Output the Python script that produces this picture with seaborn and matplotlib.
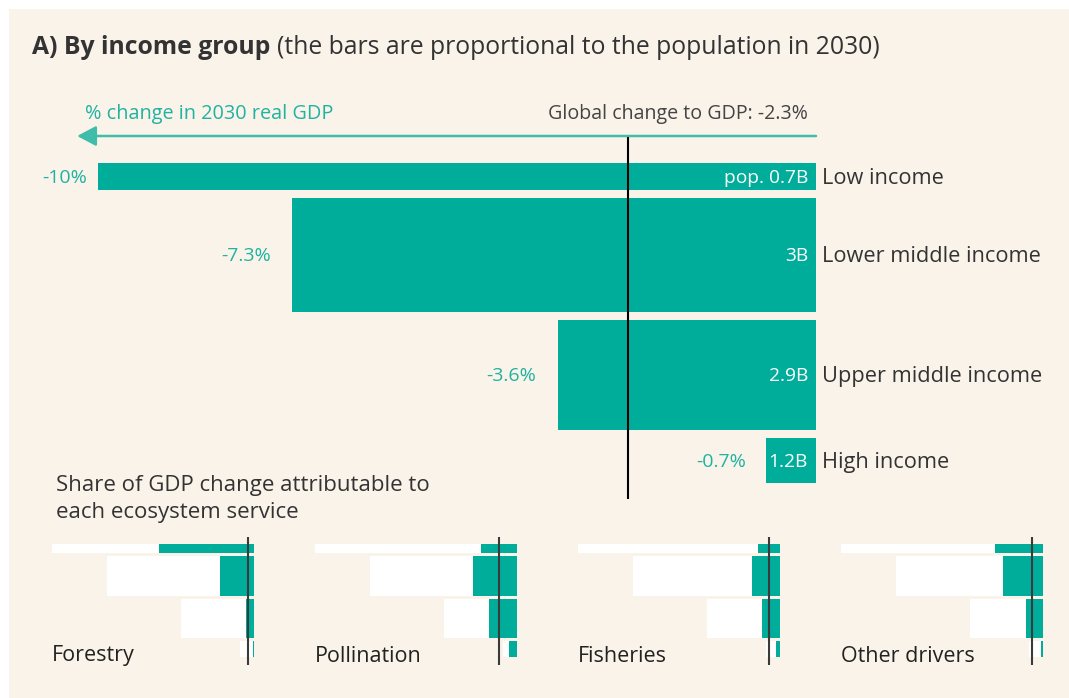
import matplotlib
matplotlib.use("Agg")
import matplotlib.pyplot as plt
from matplotlib.patches import Rectangle
import seaborn as sns
import pandas as pd

# ---------------- data ----------------
groups = ["Low income", "Lower middle income", "Upper middle income", "High income"]
gdp_change = [-10.0, -7.3, -3.6, -0.7]
population_b = [0.7, 3.0, 2.9, 1.2]
pop_labels = ["pop. 0.7B", "3B", "2.9B", "1.2B"]
pct_labels = ["-10%", "-7.3%", "-3.6%", "-0.7%"]
global_change_label = "Global change to GDP: -2.3%"
global_marker = -2.62  # position of the global reference line as drawn

services = ["Forestry", "Pollination", "Fisheries", "Other drivers"]
forestry = [-4.7, -1.7, -0.4, -0.06]
pollination = [-1.8, -2.2, -1.4, -0.4]
fisheries = [-1.1, -1.4, -0.9, -0.2]
other_drivers = [-2.4, -2.0, -0.85, -0.12]
service_values = [forestry, pollination, fisheries, other_drivers]
service_global = [-0.3, -0.9, -0.55, -0.55]

# ---------------- style ----------------
sns.set_theme(style="white")
plt.rcParams["font.family"] = ["Open Sans", "DejaVu Sans"]

TEAL = "#00ad9a"
TEAL_TXT = "#20b3a1"
ARROW = "#3fbcaa"
BEIGE = "#faf3ea"
DARK = "#333333"

W, H = 1069, 698
fig = plt.figure(figsize=(W / 100, H / 100), dpi=100, facecolor="white")
fig.patches.append(Rectangle((9 / W, 0), 1 - 9 / W, 1 - 9 / H, transform=fig.transFigure,
                             facecolor=BEIGE, edgecolor="none", zorder=-10))


def rect(x0, y0, x1, y1):
    return [x0 / W, 1 - y1 / H, (x1 - x0) / W, (y1 - y0) / H]


def px2pt(p):
    return p * 72 / 100


def stack_positions(pops, top, gap):
    tops = []
    t = top
    for p in pops:
        tops.append(t)
        t += p + gap
    return tops


def reshape_bars(ax, tops, pops):
    n = len(pops)
    for i, patch in enumerate(ax.patches):
        k = i % n
        patch.set_y(tops[k])
        patch.set_height(pops[k])
        patch.set_linewidth(0)


# ---------------- main panel ----------------
px_per_b = 38.0
ax = fig.add_axes(rect(98, 137, 816, 499))
df = pd.DataFrame({"group": groups, "change": gdp_change})
sns.barplot(data=df, x="change", y="group", orient="h", color=TEAL, saturation=1,
            errorbar=None, ax=ax)
main_tops = stack_positions(population_b, 26 / px_per_b, 8 / px_per_b)
reshape_bars(ax, main_tops, population_b)
ax.set_xlim(-10, 0)
ax.set_ylim(362 / px_per_b, 0)
ax.set_axis_off()
ax.axvline(global_marker, color="black", lw=1.5, zorder=5)

# arrow
ax.annotate("", xy=(-10.29, -1 / px_per_b), xytext=(0, -1 / px_per_b),
            arrowprops=dict(arrowstyle="-|>,head_length=11.5,head_width=6.1", mutation_scale=1,
                            color=ARROW, lw=1.8, shrinkA=0, shrinkB=0), annotation_clip=False)

label_gaps = [11, 21, 21, 20]
for i, g in enumerate(groups):
    yc = main_tops[i] + population_b[i] / 2
    ax.annotate(pct_labels[i], xy=(gdp_change[i], yc), xytext=(-px2pt(label_gaps[i]), -px2pt(1.5)),
                textcoords="offset points", ha="right", va="center", color=TEAL_TXT,
                fontsize=14, annotation_clip=False)
    ax.annotate(pop_labels[i], xy=(0, yc), xytext=(-px2pt(8), -px2pt(1.5)), textcoords="offset points",
                ha="right", va="center", color="white", fontsize=13.8, zorder=6)
    ax.annotate(g, xy=(0, yc), xytext=(px2pt(6), -px2pt(2)), textcoords="offset points",
                ha="left", va="center", color=DARK, fontsize=15.7, annotation_clip=False)

# texts
fig.text(85 / W, 1 - 114.5 / H, "% change in 2030 real GDP", color=TEAL_TXT, fontsize=14.3,
         ha="left", va="center")
fig.text(808 / W, 1 - 114.5 / H, global_change_label, color="#444444", fontsize=14.1,
         ha="right", va="center")

t1 = fig.text(32 / W, 1 - 47 / H, "A) By income group", fontsize=17.8, fontweight="bold",
              color=DARK, ha="left", va="center")
fig.canvas.draw()
bb = t1.get_window_extent(fig.canvas.get_renderer())
fig.text(bb.x1 / W + 7 / W, 1 - 47 / H, "(the bars are proportional to the population in 2030)",
         fontsize=17.8, color=DARK, ha="left", va="center")

fig.text(56 / W, 1 - 499 / H, "Share of GDP change attributable to\neach ecosystem service",
         fontsize=16, color=DARK, ha="left", va="center", linespacing=1.42)

# ---------------- small multiples ----------------
spx_per_b = 13.3
for j, svc in enumerate(services):
    x0 = 52 + 263 * j
    sax = fig.add_axes(rect(x0, 537, x0 + 202, 665))
    sdf = pd.DataFrame({"group": groups, "total": gdp_change, "share": service_values[j]})
    sns.barplot(data=sdf, x="total", y="group", orient="h", color="white", saturation=1,
                errorbar=None, ax=sax)
    sns.barplot(data=sdf, x="share", y="group", orient="h", color=TEAL, saturation=1,
                errorbar=None, ax=sax)
    s_tops = stack_positions(population_b, 7 / spx_per_b, 3 / spx_per_b)
    reshape_bars(sax, s_tops, population_b)
    sax.set_xlim(-10, 0)
    sax.set_ylim(128 / spx_per_b, 0)
    sax.set_axis_off()
    sax.axvline(service_global[j], color="#3a3a3a", lw=1.5, zorder=5)
    fig.text(x0 / W, 1 - 656 / H, svc, fontsize=15.5, color="#222222", ha="left", va="center")

fig.savefig("out.png", dpi=100, facecolor=fig.get_facecolor())
